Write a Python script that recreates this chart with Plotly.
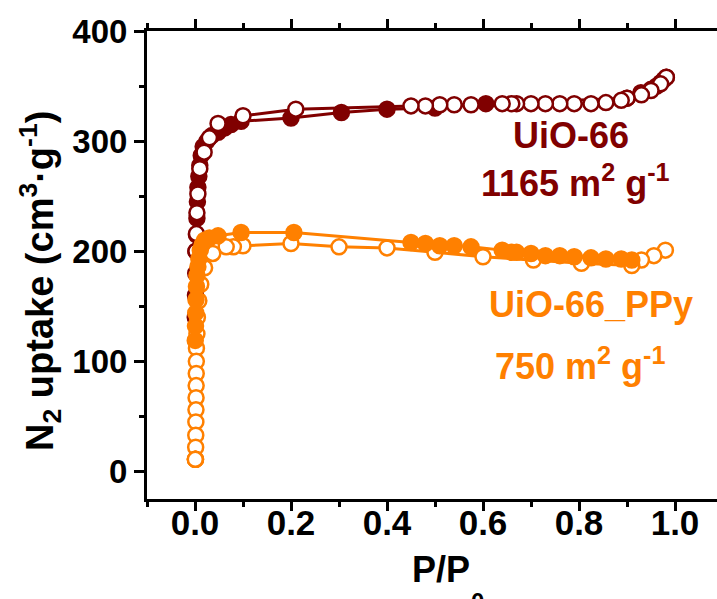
import plotly.graph_objects as go

# UiO-66 adsorption (filled)
uio_ads_x = [0.0005, 0.001, 0.0015, 0.002, 0.003, 0.004, 0.005, 0.006, 0.008, 0.010, 0.013, 0.017,
             0.025, 0.035, 0.048, 0.062, 0.075, 0.096, 0.2, 0.305, 0.4, 0.5, 0.606, 0.9, 0.929,
             0.95, 0.962, 0.97, 0.977, 0.982]
uio_ads_y = [140, 160, 180, 200, 215, 230, 245, 258, 268, 278, 287, 295,
             300, 305, 308, 312, 315, 318, 321, 326, 329, 330, 334, 339, 344,
             347, 350, 353, 356, 358]
# UiO-66 desorption (open)
uio_des_x = [0.982, 0.97, 0.95, 0.93, 0.90, 0.888, 0.856, 0.825, 0.79, 0.76, 0.73, 0.70, 0.67,
             0.66, 0.64, 0.575, 0.54, 0.51, 0.48, 0.45, 0.21, 0.1, 0.048, 0.03, 0.019, 0.01,
             0.006, 0.004, 0.003, 0.002]
uio_des_y = [358, 352, 346, 342, 339, 337, 335, 334, 334, 334, 334, 334, 334,
             334, 334, 333, 333, 333, 332, 332, 329, 323, 316, 303, 290, 275,
             252, 235, 216, 200]

# UiO-66_PPy adsorption (filled)
ppy_ads_x = [0.0005, 0.001, 0.0015, 0.002, 0.003, 0.004, 0.006, 0.008, 0.011, 0.015, 0.02, 0.03,
             0.048, 0.096, 0.206, 0.45, 0.48, 0.51, 0.54, 0.575, 0.64, 0.66, 0.67, 0.70, 0.73,
             0.76, 0.79, 0.825, 0.856, 0.888, 0.91]
ppy_ads_y = [119, 132, 144, 156, 168, 178, 186, 193, 201, 206, 210, 212,
             214, 217, 217, 208, 207, 205, 205, 204, 201, 199, 199, 198, 196,
             196, 195, 194, 193, 193, 192]
# UiO-66_PPy desorption (open)
ppy_des_x = [0.98, 0.956, 0.93, 0.91, 0.805, 0.705, 0.6, 0.5, 0.4, 0.3, 0.2, 0.1, 0.08, 0.065,
             0.037, 0.02, 0.012, 0.008, 0.005, 0.004, 0.003, 0.0028, 0.0026, 0.0024, 0.0022,
             0.002, 0.0018, 0.0016, 0.0014, 0.0012, 0.001, 0.0008, 0.0006]
ppy_des_y = [201, 196, 192, 187, 189, 192, 195, 199, 203, 204, 207, 205, 204, 204,
             198, 185, 170, 155, 140, 125, 112, 100, 89, 78, 67,
             56, 45, 33, 22, 11, 11, 11, 11]

x_ticks = [0.0, 0.2, 0.4, 0.6, 0.8, 1.0]
x_tick_labels = ["0.0", "0.2", "0.4", "0.6", "0.8", "1.0"]
y_ticks = [0, 100, 200, 300, 400]
y_tick_labels = ["0", "100", "200", "300", "400"]

RED = "#800000"
ORANGE = "#FF8000"
FONT = "Liberation Sans, Arial, sans-serif"
X_RANGE = [-0.1, 1.0875]

fig = go.Figure()


def add(xs, ys, color, filled):
    fig.add_trace(go.Scatter(
        x=xs, y=ys, mode="lines+markers",
        line=dict(color=color, width=3),
        marker=dict(size=15, symbol="circle",
                    color=color if filled else "white",
                    line=dict(color=color, width=2.5)),
        showlegend=False, cliponaxis=False,
    ))


# empty trace that anchors the overlay axis carrying the x tick marks and frame lines
fig.add_trace(go.Scatter(x=[], y=[], xaxis="x2", showlegend=False, hoverinfo="skip"))

add(uio_ads_x, uio_ads_y, RED, True)
add(uio_des_x, uio_des_y, RED, False)
add(ppy_des_x, ppy_des_y, ORANGE, False)
add(ppy_ads_x, ppy_ads_y, ORANGE, True)

fig.update_layout(
    width=717, height=599,
    margin=dict(l=147, r=0, t=31, b=100),
    paper_bgcolor="white", plot_bgcolor="white",
    font=dict(family=FONT, color="black", weight="bold"),
    xaxis=dict(
        range=X_RANGE, showgrid=False, zeroline=False, showline=False,
        ticks="", tickvals=x_ticks, ticktext=x_tick_labels,
        tickfont=dict(size=35, family=FONT, weight="bold", color="black"),
    ),
    xaxis2=dict(
        range=X_RANGE, overlaying="x", anchor="y", side="bottom",
        showgrid=False, zeroline=False, showticklabels=False,
        showline=True, linecolor="black", linewidth=3, mirror="ticks",
        ticks="outside", ticklen=9, tickwidth=2.5, tickcolor="black",
        tickvals=x_ticks,
        minor=dict(dtick=0.1, ticks="outside", ticklen=5, tickwidth=2.5, tickcolor="black"),
    ),
    yaxis=dict(
        range=[-25, 400], showgrid=False, zeroline=False,
        showline=True, linecolor="black", linewidth=3, mirror=False,
        ticks="outside", ticklen=10, tickwidth=2.5, tickcolor="black",
        tickvals=y_ticks, ticktext=y_tick_labels,
        tickfont=dict(size=33, family=FONT, weight="bold", color="black"),
        minor=dict(dtick=50, ticks="outside", ticklen=5, tickwidth=2.5, tickcolor="black"),
    ),
)

W = 570.0
H = 468.0


def px2paper(px, py):
    return (px - 147) / W, (499 - py) / H


def note(text, px, py, size, color, angle=0):
    qx, qy = px2paper(px, py)
    fig.add_annotation(text=text, xref="paper", yref="paper", x=qx, y=qy,
                       xanchor="center", yanchor="middle", textangle=angle,
                       showarrow=False,
                       font=dict(size=size, family=FONT, weight="bold", color=color))


note("N<sub>2</sub> uptake (cm<sup>3</sup>·g<sup>-1</sup>)", 40, 281, 38, "black", -90)
note("P/P", 441, 569, 36, "black")
note("0", 477, 601, 24, "black")

note("UiO-66", 571, 135, 36, RED)
note("1165 m<sup>2</sup> g<sup>-1</sup>", 575, 181, 36, RED)
note("UiO-66_PPy", 591, 305, 36, ORANGE)
note("750 m<sup>2</sup> g<sup>-1</sup>", 580, 364, 36, ORANGE)

fig.write_html("out.html", config={"displayModeBar": False},
               post_script="document.body.style.margin='0';document.body.style.overflow='hidden';")
